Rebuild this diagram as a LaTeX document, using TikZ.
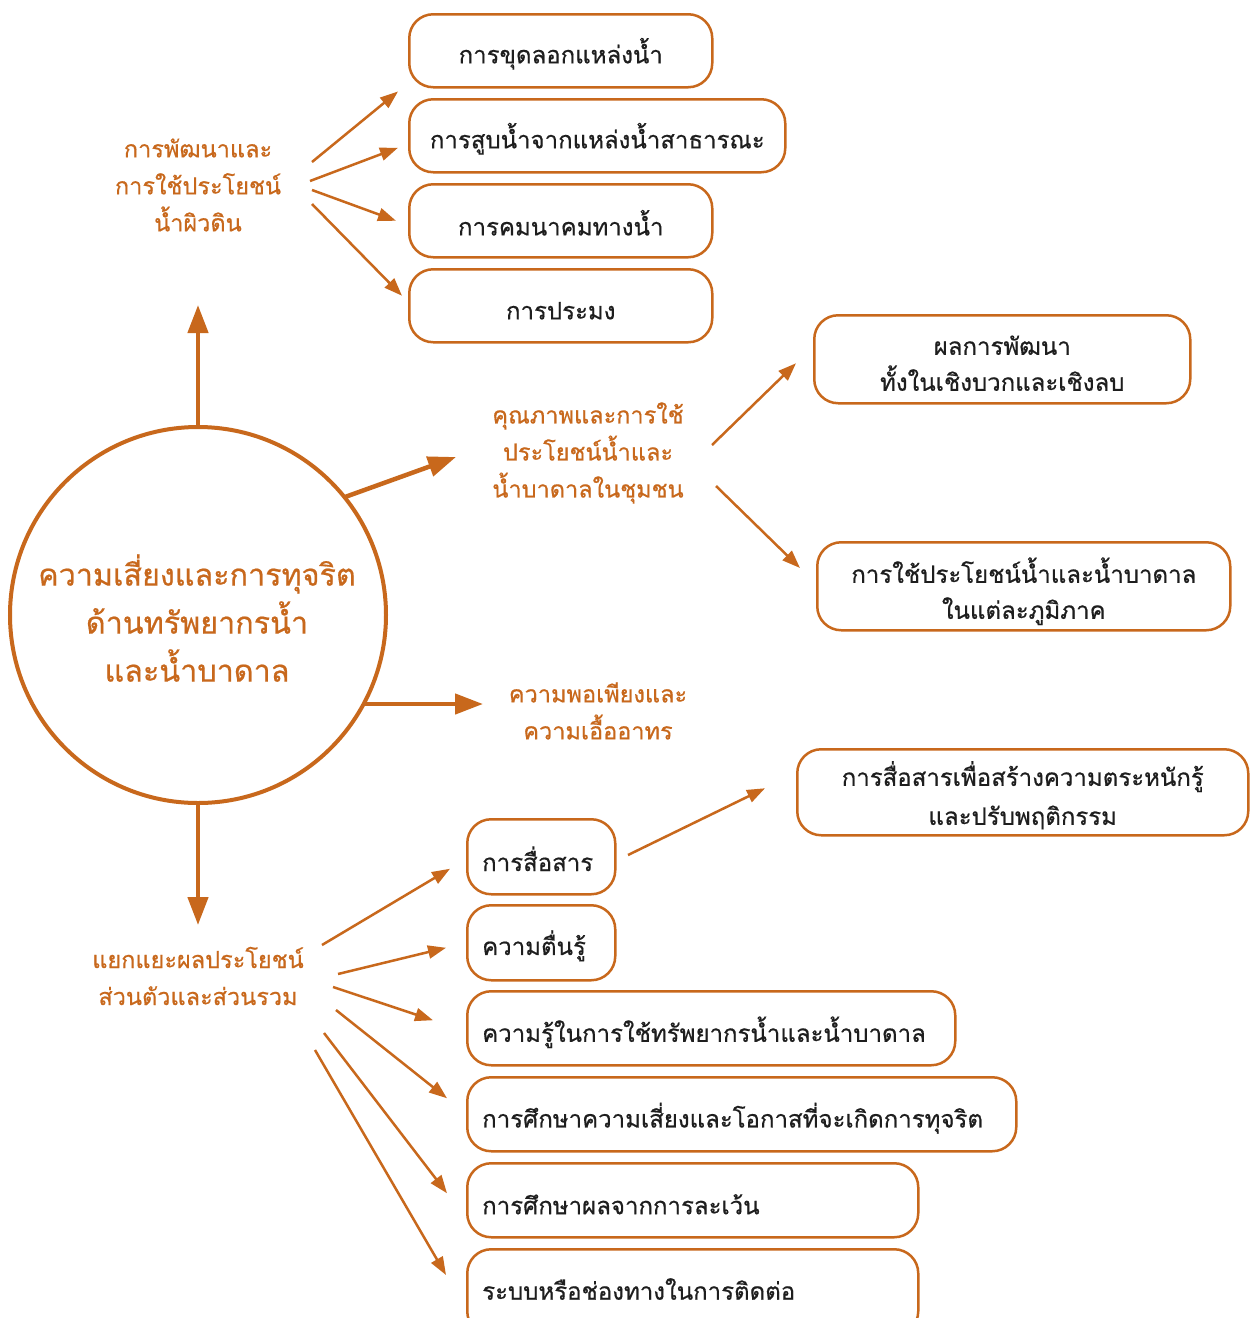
\documentclass[tikz,border=0pt]{standalone}
\usepackage{fontspec}
\newfontfamily\thai[Script=Thai,FakeBold=0.6]{Loma}
\usetikzlibrary{arrows.meta,calc}
\definecolor{org}{RGB}{200,104,28}
\definecolor{ink}{RGB}{30,30,30}
\tikzset{
  box/.style={draw=org, line width=2.5pt, rounded corners=24pt, fill=white, inner sep=0pt},
  btxt/.style={text=ink, font=\thai\fontsize{24}{36}\selectfont, align=center, inner sep=0pt},
  ltxt/.style={btxt, anchor=west, align=left},
  lbl/.style={text=org, font=\thai\fontsize{23.5}{37}\selectfont, align=center, inner sep=0pt},
  thin/.style={draw=org, line width=2.5pt, -{Triangle[length=18pt,width=13pt]}},
  thick/.style={draw=org, line width=4.5pt, -{Triangle[length=28pt,width=20pt]}},
}
\begin{document}
\begin{tikzpicture}[x=1pt,y=-1pt]
\useasboundingbox (0,0) rectangle (1250,1318);
\fill[white] (0,0) rectangle (1250,1318);
\clip (0,0) rectangle (1250,1318);

% central circle
\node[circle, draw=org, line width=4pt, minimum size=376pt, inner sep=0pt] (c) at (198,615) {};
\node[text=org, font=\thai\fontsize{30.5}{48}\selectfont, align=center, inner sep=0pt] (ct) at (197,618) {ความเสี่ยงและการทุจริต\\ด้านทรัพยากรน้ำ\\และน้ำบาดาล};

% labels
\node[lbl] (l1) at (198,185) {การพัฒนาและ\\การใช้ประโยชน์\\น้ำผิวดิน};
\node[lbl] (l2) at (588,453) {คุณภาพและการใช้\\ประโยชน์น้ำและ\\น้ำบาดาลในชุมชน};
\node[lbl] (l3) at (598,711) {ความพอเพียงและ\\ความเอื้ออาทร};
\node[lbl] (l4) at (198,976) {แยกแยะผลประโยชน์\\ส่วนตัวและส่วนรวม};

% top boxes
\node[box, minimum width=303pt, minimum height=73pt, anchor=north west] (b1) at (408,13) {};
\node[box, minimum width=376pt, minimum height=73pt, anchor=north west] (b2) at (408,98) {};
\node[box, minimum width=303pt, minimum height=73pt, anchor=north west] (b3) at (408,183) {};
\node[box, minimum width=303pt, minimum height=73pt, anchor=north west] (b4) at (408,268) {};
\node[btxt] (b1t) at ($(b1.center)+(0,3)$) {การขุดลอกแหล่งน้ำ};
\node[btxt] (b2t) at ($(b2.center)+(0,3)$) {การสูบน้ำจากแหล่งน้ำสาธารณะ};
\node[btxt] (b3t) at ($(b3.center)+(0,2)$) {การคมนาคมทางน้ำ};
\node[btxt] (b4t) at ($(b4.center)+(0,5)$) {การประมง};

% middle right boxes
\node[box, minimum width=376pt, minimum height=88pt, anchor=north west] (m1) at (813,314) {};
\node[box, minimum width=413pt, minimum height=88pt, anchor=north west] (m2) at (816,541) {};
\node[btxt] (m1t) at ($(m1.center)+(0,4)$) {ผลการพัฒนา\\ทั้งในเชิงบวกและเชิงลบ};
\node[btxt] (m2t) at ($(m2.center)+(0,5)$) {การใช้ประโยชน์น้ำและน้ำบาดาล\\ในแต่ละภูมิภาค};

% bottom boxes
\node[box, minimum width=451pt, minimum height=86pt, anchor=north west] (k1) at (796,748) {};
\node[btxt, font=\thai\fontsize{24}{39}\selectfont] (k1t) at ($(k1.center)+(0,3)$) {การสื่อสารเพื่อสร้างความตระหนักรู้\\และปรับพฤติกรรม};
\node[box, minimum width=148pt, minimum height=75pt, anchor=north west] (s1) at (466,818) {};
\node[box, minimum width=148pt, minimum height=75pt, anchor=north west] (s2) at (466,904) {};
\node[box, minimum width=488pt, minimum height=74pt, anchor=north west] (s3) at (466,990) {};
\node[box, minimum width=549pt, minimum height=74pt, anchor=north west] (s4) at (466,1076) {};
\node[box, minimum width=451pt, minimum height=74pt, anchor=north west] (s5) at (466,1162) {};
\node[box, minimum width=451pt, minimum height=86pt, anchor=north west] (s6) at (466,1248) {};
\node[ltxt] (s1t) at ($(s1.west)+(16,2)$) {การสื่อสาร};
\node[ltxt] (s2t) at ($(s2.west)+(16,3)$) {ความตื่นรู้};
\node[ltxt] (s3t) at ($(s3.west)+(16,4)$) {ความรู้ในการใช้ทรัพยากรน้ำและน้ำบาดาล};
\node[ltxt] (s4t) at ($(s4.west)+(16,4)$) {การศึกษาความเสี่ยงและโอกาสที่จะเกิดการทุจริต};
\node[ltxt] (s5t) at ($(s5.west)+(16,4)$) {การศึกษาผลจากการละเว้น};
\node[ltxt] (s6t) at ($(s6.north west)+(16,41)$) {ระบบหรือช่องทางในการติดต่อ};

% thick arrows from circle
\coordinate (tu) at (198,305);
\coordinate (td) at (198,925);
\coordinate (tr1s) at (345,497);
\coordinate (tr1) at (456,457);
\coordinate (tr2s) at (365,704);
\coordinate (tr2) at (483,704);
\draw[thick] (c.north) -- (tu);
\draw[thick] (c.south) -- (td);
\draw[thick] (tr1s) -- (tr1);
\draw[thick] (tr2s) -- (tr2);

% arrows from label 1
\coordinate (a1) at (312,162);
\coordinate (a2) at (310,181);
\coordinate (a3) at (312,190);
\coordinate (a4) at (312,204);
\draw[thin] (a1) -- ($(b1.south west)+(-10,3)$);
\draw[thin] (a2) -- ($(b2.west)+(-10,12)$);
\draw[thin] (a3) -- ($(b3.west)+(-12,0)$);
\draw[thin] (a4) -- ($(b4.west)+(-6,-10)$);

% arrows from label 2
\coordinate (p1) at (712,445);
\coordinate (p2) at (716,486);
\draw[thin] (p1) -- ($(m1.west)+(-17,4)$);
\draw[thin] (p2) -- ($(m2.north west)+(-16,27)$);

% arrows from label 4
\coordinate (q1) at (322,945);
\coordinate (q2) at (338,974);
\coordinate (q3) at (333,987);
\coordinate (q4) at (336,1010);
\coordinate (q5) at (324,1033);
\coordinate (q6) at (315,1050);
\draw[thin] (q1) -- ($(s1.west)+(-16,12)$);
\draw[thin] (q2) -- ($(s2.west)+(-20,5)$);
\draw[thin] (q3) -- ($(s3.west)+(-33,-8)$);
\draw[thin] (q4) -- ($(s4.west)+(-19,-16)$);
\draw[thin] (q5) -- ($(s5.west)+(-19,-7)$);
\draw[thin] (q6) -- ($(s6.north west)+(-20,27)$);

% arrow from s1 to k1
\coordinate (r1) at (628,855);
\draw[thin] (r1) -- ($(k1.west)+(-31,-4)$);
\end{tikzpicture}
\end{document}
